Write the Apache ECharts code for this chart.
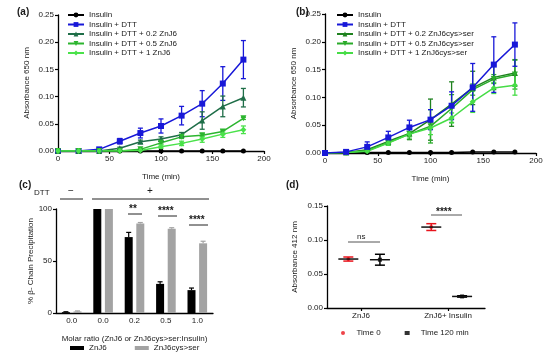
<!DOCTYPE html>
<html><head><meta charset="utf-8">
<script src="https://cdn.jsdelivr.net/npm/echarts@6/dist/echarts.min.js"></script>
<style>html,body{margin:0;padding:0;background:#fff}#c{width:550px;height:359px}</style>
</head><body><div id="c"></div>
<script>
// ---------- data ----------
const timeMin = [0,20,40,60,80,100,120,140,160,180];
// panel (a)
const aInsulin = [0,0,0,0,0,0,0,0,0,0];
const aDTT = [0,0,0.003,0.018,0.033,0.046,0.065,0.087,0.124,0.168];
const aDTTErr = [0,0,0.002,0.005,0.009,0.013,0.017,0.024,0.031,0.035];
const aZ02 = [0,0,0,0.005,0.017,0.022,0.030,0.056,0.082,0.098];
const aZ02Err = [0,0,0,0.002,0.003,0.004,0.004,0.016,0.019,0.017];
const aZ05 = [0,0,0,0,0.003,0.015,0.026,0.029,0.036,0.060];
const aZ05Err = [0,0,0,0,0.001,0.002,0.003,0.003,0.003,0.002];
const aZ1 = [0,0,0,0,0.001,0.008,0.014,0.022,0.031,0.039];
const aZ1Err = [0,0,0,0,0.001,0.003,0.004,0.006,0.006,0.007];
// panel (b)
const bInsulin = [0,0.001,0.001,0.001,0.001,0.001,0.001,0.002,0.002,0.002];
const bDTT = [0,0.002,0.011,0.028,0.046,0.060,0.085,0.118,0.159,0.195];
const bDTTErr = [0,0.002,0.009,0.011,0.013,0.018,0.025,0.043,0.050,0.039];
const bC02 = [0,0.001,0.006,0.021,0.035,0.060,0.088,0.117,0.136,0.144];
const bC02Err = [0,0.001,0.004,0.006,0.011,0.037,0.040,0.030,0.022,0.024];
const bC05 = [0,0.001,0.004,0.019,0.034,0.048,0.080,0.114,0.133,0.141];
const bC05Err = [0,0.001,0.003,0.005,0.009,0.030,0.025,0.010,0.008,0.026];
const bC1 = [0,0.001,0.003,0.018,0.034,0.045,0.063,0.092,0.117,0.122];
const bC1Err = [0,0.001,0.002,0.004,0.005,0.012,0.009,0.019,0.010,0.018];
// panel (c)
const cCategories = ['0.0','0.0','0.2','0.5','1.0'];
const cZnJ6 = [0.8,100,73,28,22];
const cZnJ6Err = [0.4,0,4.5,2,2];
const cCys = [1.5,100,86,81,67];
const cCysErr = [0.5,0,1,1,2];
// panel (d)
const dGroups = ['ZnJ6','ZnJ6+ Insulin'];
const dGroupPos = [21.5,76.6];
const dTime0Pos = [13.5,66];
const dTime0 = [0.072,0.119];
const dTime0Err = [0.003,0.005];
const dTime120Pos = [33.5,85.5];
const dTime120 = [0.071,0.017];
const dTime120Err = [0.008,0.001];

// ---------- styling ----------
const FONT = 'Liberation Sans, Arial, sans-serif';
const TXT = '#1a1a1a';
const cInsulin = '#000000', cDTT = '#1818d8';
const colA = ['#1f6e48','#2cb52f','#4ae24a'];
const colB = ['#1f821f','#2aab2a','#46dc46'];

function zip(xs, ys){ return xs.map((x,i)=>[x, ys[i]]); }
function zip3(xs, ys, es){ return xs.map((x,i)=>[x, ys[i], es[i]]); }

function errRender(color, capW, lw, upOnly, offPx){
  return function(params, api){
    const x = api.value(0), m = api.value(1), e = api.value(2);
    if (!e) return null;
    const t = api.coord([x, m+e]);
    const b = api.coord([x, upOnly ? m : m-e]);
    const cx = t[0] + (offPx||0);
    const st = {stroke: color, lineWidth: lw};
    const ch = [
      {type:'line', shape:{x1:cx,y1:t[1],x2:cx,y2:b[1]}, style:st},
      {type:'line', shape:{x1:cx-capW/2,y1:t[1],x2:cx+capW/2,y2:t[1]}, style:st}
    ];
    if (!upOnly) ch.push({type:'line', shape:{x1:cx-capW/2,y1:b[1],x2:cx+capW/2,y2:b[1]}, style:st});
    return {type:'group', children: ch};
  };
}
function meanRender(color, errColor, meanW, capW){
  return function(params, api){
    const x = api.value(0), m = api.value(1), e = api.value(2);
    const c = api.coord([x, m]);
    const t = api.coord([x, m+e]);
    const b = api.coord([x, m-e]);
    const es = {stroke: errColor, lineWidth: 1.5};
    return {type:'group', children:[
      {type:'line', shape:{x1:c[0],y1:t[1],x2:c[0],y2:b[1]}, style:es},
      {type:'line', shape:{x1:c[0]-capW/2,y1:t[1],x2:c[0]+capW/2,y2:t[1]}, style:es},
      {type:'line', shape:{x1:c[0]-capW/2,y1:b[1],x2:c[0]+capW/2,y2:b[1]}, style:es},
      {type:'line', shape:{x1:c[0]-meanW/2,y1:c[1],x2:c[0]+meanW/2,y2:c[1]}, style:{stroke:color,lineWidth:1.5}}
    ]};
  };
}

const axisLine = {lineStyle:{color:'#000', width:1.3}};
const axisTick = {inside:false, length:3, lineStyle:{color:'#000', width:1.2}};
const lbl = {color: TXT, fontSize: 8, fontFamily: FONT, margin: 4};
const nameStyle = {color: TXT, fontSize: 8, fontFamily: FONT};

function timeX(gi){
  return {gridIndex: gi, type:'value', min:0, max:200, interval:50,
    axisLine, axisTick, axisLabel: lbl, splitLine:{show:false},
    name:'Time (min)', nameLocation:'middle', nameGap: 22, nameTextStyle: nameStyle};
}
function absY(gi){
  return {gridIndex: gi, type:'value', min:0, max:0.25, interval:0.05,
    axisLine:{show:true, lineStyle:{color:'#000', width:1.3}}, axisTick:{show:true, length:3, lineStyle:{color:'#000', width:1.2}},
    axisLabel: Object.assign({}, lbl, {formatter: v => v.toFixed(2)}), splitLine:{show:false},
    name:'Absorbance 650 nm', nameLocation:'middle', nameGap: 27, nameTextStyle: nameStyle};
}

function lineSeries(name, gi, ys, color, symbol, rot){
  return {name, type:'line', xAxisIndex: gi, yAxisIndex: gi, data: zip(timeMin, ys),
    symbol, symbolSize: symbol==='circle'?5:6, symbolRotate: rot||0,
    lineStyle:{color, width:1.5}, itemStyle:{color}, z:3};
}
function errSeries(gi, ys, es, color){
  return {type:'custom', xAxisIndex: gi, yAxisIndex: gi, data: zip3(timeMin, ys, es),
    renderItem: errRender(color, 5, 1.3, false, 0), z:2, silent:true};
}

const nA = ['Insulin','Insulin + DTT','Insulin + DTT + 0.2 ZnJ6','Insulin + DTT + 0.5 ZnJ6','Insulin + DTT + 1 ZnJ6'];
const nB = ['Insulin','Insulin + DTT','Insulin + DTT + 0.2 ZnJ6cys>ser','Insulin + DTT + 0.5 ZnJ6cys>ser','Insulin + DTT + 1 ZnJ6cys>ser'];

const series = [
  // (a)
  lineSeries(nA[0],0,aInsulin,cInsulin,'circle'),
  lineSeries(nA[1],0,aDTT,cDTT,'rect'),
  lineSeries(nA[2],0,aZ02,colA[0],'triangle'),
  lineSeries(nA[3],0,aZ05,colA[1],'triangle',180),
  lineSeries(nA[4],0,aZ1,colA[2],'diamond'),
  errSeries(0,aDTT,aDTTErr,cDTT),
  errSeries(0,aZ02,aZ02Err,colA[0]),
  errSeries(0,aZ05,aZ05Err,colA[1]),
  errSeries(0,aZ1,aZ1Err,colA[2]),
  // (b)
  lineSeries(nB[0],1,bInsulin,cInsulin,'circle'),
  lineSeries(nB[2],1,bC02,colB[0],'triangle'),
  lineSeries(nB[3],1,bC05,colB[1],'triangle',180),
  lineSeries(nB[4],1,bC1,colB[2],'diamond'),
  lineSeries(nB[1],1,bDTT,cDTT,'rect'),
  errSeries(1,bC02,bC02Err,colB[0]),
  errSeries(1,bC05,bC05Err,colB[1]),
  errSeries(1,bC1,bC1Err,colB[2]),
  errSeries(1,bDTT,bDTTErr,cDTT),
  // (c)
  {name:'ZnJ6', type:'bar', xAxisIndex:2, yAxisIndex:2, data:cZnJ6, barWidth:8, barGap:'45%', itemStyle:{color:'#000'}},
  {name:'ZnJ6cys>ser', type:'bar', xAxisIndex:2, yAxisIndex:2, data:cCys, barWidth:8, itemStyle:{color:'#a3a3a3'}},
  {type:'custom', xAxisIndex:2, yAxisIndex:2, data: cCategories.map((c,i)=>[i,cZnJ6[i],cZnJ6Err[i]]),
    renderItem: errRender('#000',5,1.2,true,-5.8), z:4, silent:true},
  {type:'custom', xAxisIndex:2, yAxisIndex:2, data: cCategories.map((c,i)=>[i,cCys[i],cCysErr[i]]),
    renderItem: errRender('#a3a3a3',5,1.2,true,5.8), z:4, silent:true},
  // (d)
  {name:'Time 0', type:'scatter', xAxisIndex:3, yAxisIndex:3, data: zip(dTime0Pos,dTime0), symbol:'circle', symbolSize:4, itemStyle:{color:'#e8141c'}, z:3},
  {name:'Time 120 min', type:'scatter', xAxisIndex:3, yAxisIndex:3, data: zip(dTime120Pos,dTime120), symbol:'rect', symbolSize:4, itemStyle:{color:'#000'}, z:3},
  {type:'custom', xAxisIndex:3, yAxisIndex:3, data: zip3(dTime0Pos,dTime0,dTime0Err), renderItem: meanRender('#111','#e8141c',20,10), z:4, silent:true},
  {type:'custom', xAxisIndex:3, yAxisIndex:3, data: zip3(dTime120Pos,dTime120,dTime120Err), renderItem: meanRender('#111','#000',20,10), z:4, silent:true}
];

function legendAB(left, top, names){
  return {left, top, orient:'vertical', data: names, itemWidth:16, itemHeight:6, itemGap:1.5,
    textStyle:{color:TXT, fontSize:8, fontFamily:FONT, lineHeight:8}, padding:0, selectedMode:false};
}

const gText = (x,y,t,opt) => Object.assign({type:'text', left:x, top:y, style:Object.assign({text:t, fill:TXT, font:'8px '+FONT}, opt||{})});
const gLine = (x1,y,x2,color,w) => ({type:'line', shape:{x1,y1:y,x2,y2:y}, style:{stroke:color||'#222', lineWidth:w||1}});
const star = {font:'bold 10px '+FONT};

const option = {
  animation:false,
  backgroundColor:'#fff',
  textStyle:{fontFamily:FONT},
  grid:[
    {left:58, top:15, width:206, height:136},
    {left:325, top:14, width:211, height:139},
    {left:56, top:209, width:157, height:104},
    {left:327, top:206, width:158, height:102}
  ],
  xAxis:[
    timeX(0), timeX(1),
    {gridIndex:2, type:'category', data:cCategories, axisLine, axisTick:Object.assign({alignWithLabel:true},axisTick), axisLabel:lbl,
      name:'Molar ratio (ZnJ6 or ZnJ6cys>ser:Insulin)', nameLocation:'middle', nameGap:22, nameTextStyle:nameStyle},
    {gridIndex:3, type:'value', min:0, max:100, axisLine,
      axisTick:Object.assign({customValues:dGroupPos},axisTick),
      axisLabel:Object.assign({customValues:dGroupPos, formatter:(v)=>dGroups[dGroupPos.indexOf(v)]||''},lbl),
      splitLine:{show:false}}
  ],
  yAxis:[
    absY(0), absY(1),
    {gridIndex:2, type:'value', min:0, max:100, interval:50, axisLine:{show:true,lineStyle:{color:'#000',width:1.3}},
      axisTick:{show:true,length:3,lineStyle:{color:'#000',width:1.2}}, axisLabel:lbl, splitLine:{show:false},
      name:'% β- Chain Precipitation', nameLocation:'middle', nameGap:21, nameTextStyle:nameStyle},
    {gridIndex:3, type:'value', min:0, max:0.15, interval:0.05, axisLine:{show:true,lineStyle:{color:'#000',width:1.3}},
      axisTick:{show:true,length:3,lineStyle:{color:'#000',width:1.2}}, axisLabel:Object.assign({},lbl,{formatter:v=>v.toFixed(2)}), splitLine:{show:false},
      name:'Absorbance 412 nm', nameLocation:'middle', nameGap:28, nameTextStyle:nameStyle}
  ],
  legend:[
    legendAB(67, 11, nA),
    legendAB(336, 11, nB),
    {left:70, top:344, data:['ZnJ6','ZnJ6cys>ser'], icon:'rect', itemWidth:14, itemHeight:4, itemGap:28, padding:0,
      textStyle:{color:TXT, fontSize:8, fontFamily:FONT}, selectedMode:false},
    {left:341, top:329, data:[{name:'Time 0', icon:'circle'},{name:'Time 120 min', icon:'rect'}], itemWidth:5, itemHeight:4, itemGap:24, padding:0,
      textStyle:{color:TXT, fontSize:8, fontFamily:FONT, padding:[0,0,0,6]}, selectedMode:false}
  ],
  graphic:[
    gText(17,7,'(a)',{font:'bold 10px '+FONT}),
    gText(296,7,'(b)',{font:'bold 10px '+FONT}),
    gText(19,180,'(c)',{font:'bold 10px '+FONT}),
    gText(286,180,'(d)',{font:'bold 10px '+FONT}),
    gText(34,189,'DTT'),
    gText(68,186,'−',{font:'10px '+FONT}),
    gLine(60,199,83,'#222',1),
    gText(147,186,'+',{font:'10px '+FONT}),
    gLine(92,199,209,'#222',1),
    gText(129,204,'**',star),
    gLine(128,214,142,'#222',1),
    gText(158,206,'****',star),
    gLine(158,216,177,'#222',1),
    gText(189,215,'****',star),
    gLine(189,225,208,'#222',1),
    gText(357,233,'ns'),
    gLine(348,242,380,'#555',1),
    gText(436,207,'****',star),
    gLine(431,215,462,'#555',1)
  ],
  series
};
const chart = echarts.init(document.getElementById('c'), null, {renderer:'canvas'});
chart.setOption(option);
</script></body></html>
